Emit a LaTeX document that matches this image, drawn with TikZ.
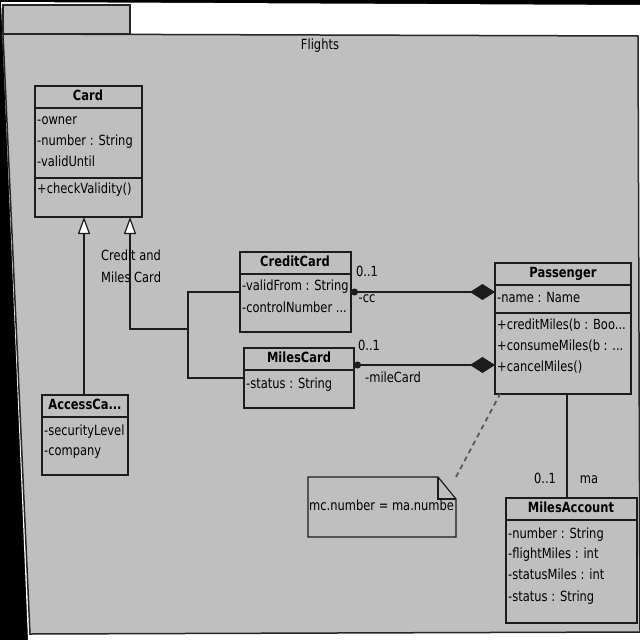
\documentclass[tikz,border=0pt]{standalone}
\usepackage{fontspec}
\setmainfont{DejaVu Sans}[FakeStretch=0.82]
\usetikzlibrary{arrows.meta,calc}
\definecolor{clsgray}{HTML}{BFBFBF}
\definecolor{lncol}{HTML}{1C1C1C}
\begin{document}
\begin{tikzpicture}[x=1pt,y=-1pt,
  ln/.style={draw=lncol, line width=1.2pt},
  cls/.style={ln, fill=clsgray, anchor=north west, inner sep=0pt, outer sep=0pt},
  txt/.style={anchor=west, inner sep=0pt, text height=10pt, text depth=3pt, font=\fontsize{14}{21}\selectfont},
  ttl/.style={anchor=center, inner sep=0pt, text height=10pt, text depth=3pt, font=\fontsize{14}{21}\selectfont\bfseries},
  lbl/.style={anchor=center, inner sep=0pt, text height=10pt, text depth=3pt, font=\fontsize{14}{21}\selectfont},
  gen/.style={ln, -{Triangle[length=17pt,width=12pt,fill=white]}},
  comp/.style={ln, {Circle[length=7pt]}-{Diamond[length=25pt,width=16pt]}},
]
\useasboundingbox (0,0) rectangle (640,640);
% background
\fill[black] (0,0) rectangle (640,640);
\fill[white] (1,2) -- (640,5) -- (640,640) -- (28,640) -- cycle;
% package
\filldraw[fill=clsgray, draw=black!85, line width=1.5pt] (3,5) rectangle (130,34);
\filldraw[fill=clsgray, draw=black!85, line width=1.5pt] (3,34) -- (638,36) -- (640,632) -- (30,634) -- cycle;
\node[lbl] (flights) at (320,46) {Flights};

% Card
\node[cls, minimum width=107pt, minimum height=131pt] (card) at (35,86) {};
\draw[ln] ($(card.north west)+(0,22)$) -- ($(card.north east)+(0,22)$);
\draw[ln] ($(card.north west)+(0,92)$) -- ($(card.north east)+(0,92)$);
\node[ttl] (cardT) at (88,97) {Card};
\node[txt] (cardA1) at (37,121) {-owner};
\node[txt] (cardA2) at (37,142) {-number : String};
\node[txt] (cardA3) at (37,163) {-validUntil};
\node[txt] (cardM1) at (37,190) {+checkValidity()};

% AccessCard
\node[cls, minimum width=86pt, minimum height=80pt] (acc) at (42,395) {};
\draw[ln] ($(acc.north west)+(0,22)$) -- ($(acc.north east)+(0,22)$);
\node[ttl] (accT) at (85,406) {AccessCa...};
\node[txt] (accA1) at (44,432) {-securityLevel};
\node[txt] (accA2) at (44,452) {-company};

% CreditCard
\node[cls, minimum width=111pt, minimum height=80pt] (credit) at (240,252) {};
\draw[ln] ($(credit.north west)+(0,22)$) -- ($(credit.north east)+(0,22)$);
\node[ttl] (creditT) at (295,263) {CreditCard};
\node[txt] (creditA1) at (242,287) {-validFrom : String};
\node[txt] (creditA2) at (242,309) {-controlNumber ...};

% MilesCard
\node[cls, minimum width=110pt, minimum height=60pt] (miles) at (244,348) {};
\draw[ln] ($(miles.north west)+(0,22)$) -- ($(miles.north east)+(0,22)$);
\node[ttl] (milesT) at (299,359) {MilesCard};
\node[txt] (milesA1) at (246,385) {-status : String};

% Passenger
\node[cls, minimum width=136pt, minimum height=131pt] (pass) at (495,263) {};
\draw[ln] ($(pass.north west)+(0,22)$) -- ($(pass.north east)+(0,22)$);
\draw[ln] ($(pass.north west)+(0,50)$) -- ($(pass.north east)+(0,50)$);
\node[ttl] (passT) at (563,274) {Passenger};
\node[txt] (passA1) at (497,299) {-name : Name};
\node[txt] (passM1) at (497,326) {+creditMiles(b : Boo...};
\node[txt] (passM2) at (497,347) {+consumeMiles(b : ...};
\node[txt] (passM3) at (497,368) {+cancelMiles()};

% MilesAccount
\node[cls, minimum width=131pt, minimum height=125pt] (macc) at (506,498) {};
\draw[ln] ($(macc.north west)+(0,22)$) -- ($(macc.north east)+(0,22)$);
\node[ttl] (maccT) at (571,509) {MilesAccount};
\node[txt] (maccA1) at (508,535) {-number : String};
\node[txt] (maccA2) at (508,555) {-flightMiles : int};
\node[txt] (maccA3) at (508,576) {-statusMiles : int};
\node[txt] (maccA4) at (508,598) {-status : String};

% Note
\node[anchor=north west, inner sep=0pt, outer sep=0pt, minimum width=148pt, minimum height=60pt] (note) at (308,477) {};
\draw[ln, fill=clsgray] (note.north west) -- ($(note.north east)+(-18,0)$) -- ($(note.north east)+(0,22)$) -- (note.south east) -- (note.south west) -- cycle;
\draw[ln] ($(note.north east)+(-18,0)$) |- ($(note.north east)+(0,22)$);
\node[txt] (noteT) at (309,507) {mc.number = ma.numbe};

% generalizations
\draw[gen] (acc.north -| 84,0) -- (card.south -| 84,0);
\coordinate (j) at (188,329);
\coordinate (g2) at (130,217);
\draw[ln] (credit.west) -| (j) |- (miles.west);
\draw[gen] (j) -| (g2);
\node[txt] (gl1) at (101,257) {Credit and};
\node[txt] (gl2) at (101,279) {Miles Card};

% compositions
\draw[comp] (credit.east) -- (pass.west |- credit.east);
\node[lbl] (cc1) at (367,273) {0..1};
\node[lbl] (cc2) at (367,299) {-cc};
\coordinate (m1) at ($(miles.north east)+(0,17)$);
\draw[comp] (m1) -- (pass.west |- m1);
\node[lbl] (mc1) at (369,347) {0..1};
\node[lbl] (mc2) at (393,379) {-mileCard};

% note link
\draw[draw=black!65, line width=1.8pt, dash pattern=on 5pt off 4pt] (note.north east) -- ($(pass.south west)+(5,0)$);

% association Passenger - MilesAccount
\draw[ln] (pass.south -| 567,0) -- (macc.north -| 567,0);
\node[lbl] (ma1) at (545,480) {0..1};
\node[lbl] (ma2) at (589,480) {ma};
\end{tikzpicture}
\end{document}
